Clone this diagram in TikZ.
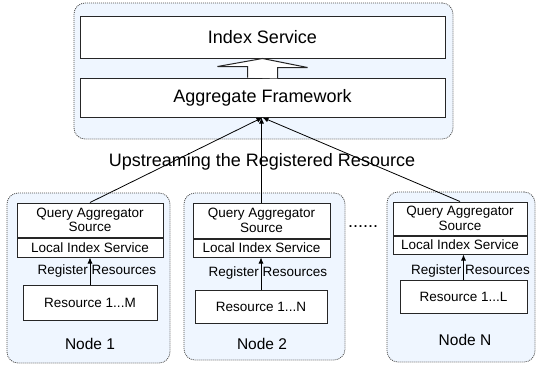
\documentclass[tikz,border=0pt]{standalone}
\usepackage{fontspec}
\setmainfont{Liberation Sans}
\usetikzlibrary{arrows.meta, positioning}
\definecolor{paneblue}{RGB}{239,246,255}

\begin{document}
\begin{tikzpicture}[
    x=1pt, y=-1pt,
    font=\fontsize{13.5}{14.5}\selectfont,
    pane/.style={draw=black!70, dash pattern=on 1pt off 1pt, fill=paneblue, rounded corners=11pt, line width=0.8pt, inner sep=0pt},
    box/.style={draw=black!85, fill=white, line width=1pt, inner sep=0pt, align=center},
    big/.style={font=\fontsize{18}{20}\selectfont},
    nodelabel/.style={font=\fontsize{15.5}{17}\selectfont},
    reglabel/.style={xshift=7pt},
    hollow/.style={draw=black!85, fill=white, line width=1pt},
    ar/.style={-{Latex[length=6pt, width=5pt]}, line width=0.8pt}
]
\useasboundingbox (0,0) rectangle (537,367);
\node[pane, minimum width=379pt, minimum height=136pt] (top) at (263.5,71) {};
\node[box, big, minimum width=365pt, minimum height=42pt] (idx) at (262.5,37) {Index Service};
\node[box, big, minimum width=365pt, minimum height=39pt] (agg) at (262.5,97.5) {Aggregate Framework};
\draw[hollow] ([xshift=-15pt]agg.north) -- ++(0,-11) -- ++(-30,0) -- (idx.south) -- ++(45,9) -- ++(-30,0) -- ++(0,11);
\node[big] (up) at (262,162) {Upstreaming the Registered Resource};

\node[pane, minimum width=163pt, minimum height=170pt] (n1) at (88.5,278) {};
\node[box, minimum width=146pt, minimum height=34pt] (q1) at (90,220) {Query Aggregator\\Source};
\node[box, minimum width=146pt, minimum height=19pt, below=0pt of q1] (l1) {Local Index Service};
\node[box, minimum width=134pt, minimum height=35pt] (r1) at (90,303) {Resource 1...M};
\node[nodelabel] (t1) at (90,344) {Node 1};

\node[pane, minimum width=161pt, minimum height=167pt] (n2) at (264.5,276.5) {};
\node[box, minimum width=137pt, minimum height=35pt] (q2) at (261.5,220.5) {Query Aggregator\\Source};
\node[box, minimum width=137pt, minimum height=18pt, below=0pt of q2] (l2) {Local Index Service};
\node[box, minimum width=132pt, minimum height=33pt] (r2) at (261,306.5) {Resource 1...N};
\node[nodelabel] (t2) at (262,344) {Node 2};

\node[font=\fontsize{18}{18}\selectfont] (dots) at (363,227) {......};

\node[pane, minimum width=148pt, minimum height=170pt] (nn) at (461,277) {};
\node[box, minimum width=134pt, minimum height=33pt] (qn) at (460,218.5) {Query Aggregator\\Source};
\node[box, minimum width=134pt, minimum height=18pt, below=0pt of qn] (ln) {Local Index Service};
\node[box, minimum width=127pt, minimum height=33pt] (rn) at (463.5,296.5) {Resource 1...L};
\node[nodelabel] (tn) at (465,340) {Node N};

\draw[ar] (r1.north) -- node[reglabel, pos=0.5]{Register Resources} (r1.north |- l1.south);
\draw[ar] (r2.north) -- node[reglabel, pos=0.5]{Register Resources} (r2.north |- l2.south);
\draw[ar] (rn.north) -- node[reglabel, pos=0.35]{Register Resources} (rn.north |- ln.south);

\draw[ar] (q1.north) -- (agg.south);
\draw[ar] (q2.north) -- (q2.north |- agg.south);
\draw[ar] (qn.north) -- (agg.south);
\end{tikzpicture}
\end{document}
